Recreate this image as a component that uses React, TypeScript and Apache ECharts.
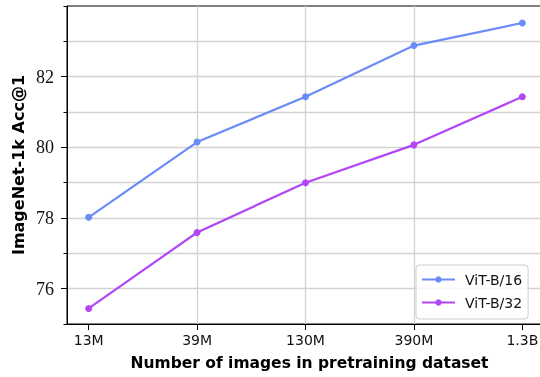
import React, { useEffect, useRef } from "react";
import * as echarts from "echarts";

const categories = ["13M", "39M", "130M", "390M", "1.3B"];
const vitB16 = [78.02, 80.15, 81.43, 82.88, 83.52];
const vitB32 = [75.44, 77.59, 79.0, 80.07, 81.43];
const yMajorTicks = [76, 78, 80, 82];
const seriesNames = ["ViT-B/16", "ViT-B/32"];
const colors = ["#6b8cf8", "#b146f6"];

export default function App() {
  const ref = useRef<HTMLDivElement>(null);
  useEffect(() => {
    const chart = echarts.init(ref.current!, null, { renderer: "svg" });
    const xIdx = categories.map((_, i) => i);
    const mk = (vals: number[]) => vals.map((v, i) => [i, v]);
    chart.setOption({
      animation: false,
      grid: {
        left: 67,
        width: 477,
        top: 6,
        height: 318,
        containLabel: false,
        outerBoundsMode: "none",
        show: true,
        borderColor: "#000",
        borderWidth: 1,
        backgroundColor: "transparent",
      },
      xAxis: {
        type: "value",
        min: -0.2,
        max: 4.2,
        name: "Number of images in pretraining dataset",
        nameLocation: "middle",
        nameGap: 31,
        nameTextStyle: { fontFamily: "DejaVu Sans", fontWeight: "bold", fontSize: 15.5, color: "#000", padding: [0, 0, 0, 8] },
        axisLine: { show: true, onZero: false, lineStyle: { color: "#000", width: 1 } },
        axisTick: { show: true, length: 6, customValues: xIdx, lineStyle: { color: "#000", width: 1 } },
        axisLabel: {
          customValues: xIdx,
          fontFamily: "DejaVu Sans",
          fontSize: 14,
          color: "#111",
          margin: 9,
          formatter: (v: number) => (Math.abs(v - Math.round(v)) < 1e-6 ? categories[Math.round(v)] ?? "" : ""),
        },
        splitLine: { show: true, showMinLine: false, showMaxLine: false, lineStyle: { color: "#d3d3d3", width: 1.3 } },
      },
      yAxis: [
        {
          type: "value",
          min: 75,
          max: 84,
          interval: 1,
          name: "ImageNet-1k Acc@1",
          nameLocation: "middle",
          nameGap: 41,
          nameRotate: 90,
          nameTextStyle: { fontFamily: "DejaVu Sans", fontWeight: "bold", fontSize: 16, color: "#000" },
          axisLine: { show: true, onZero: false, lineStyle: { color: "#000", width: 1 } },
          axisTick: { show: true, length: 3.5, lineStyle: { color: "#000", width: 1 } },
          axisLabel: { show: false },
          splitLine: { show: true, showMinLine: false, showMaxLine: false, lineStyle: { color: "#d3d3d3", width: 1.3 } },
        },
        {
          type: "value",
          min: 75,
          max: 84,
          interval: 1,
          position: "left",
          offset: 0,
          axisLine: { show: false, onZero: false },
          axisTick: { show: true, length: 6, customValues: yMajorTicks, lineStyle: { color: "#000", width: 1 } },
          axisLabel: {
            customValues: yMajorTicks,
            fontFamily: "Liberation Serif",
            fontSize: 18,
            color: "#111",
            margin: 13,
            formatter: (v: number) => (yMajorTicks.includes(v) ? String(v) : ""),
          },
          splitLine: { show: false },
        },
      ],
      legend: {
        left: 416,
        top: 265,
        orient: "vertical",
        itemWidth: 33,
        itemHeight: 8,
        itemGap: 6,
        padding: [6, 6, 8, 5],
        backgroundColor: "rgba(255,255,255,0.8)",
        borderColor: "#cccccc",
        borderWidth: 1,
        borderRadius: 3,
        textStyle: { fontFamily: "DejaVu Sans", fontSize: 14, color: "#111", padding: [0, 0, 0, 5], lineHeight: 17 },
        data: seriesNames,
      },
      series: [
        {
          name: seriesNames[0],
          type: "line",
          data: mk(vitB16),
          color: colors[0],
          symbol: "circle",
          symbolSize: 7,
          lineStyle: { width: 2.2, color: colors[0] },
          itemStyle: { color: colors[0] },
        },
        {
          name: seriesNames[1],
          type: "line",
          data: mk(vitB32),
          color: colors[1],
          symbol: "circle",
          symbolSize: 7,
          lineStyle: { width: 2.2, color: colors[1] },
          itemStyle: { color: colors[1] },
        },
      ],
    });
    return () => chart.dispose();
  }, []);
  return <div ref={ref} style={{ width: 540, height: 377, position: "fixed", left: 0, top: 0 }} />;
}
